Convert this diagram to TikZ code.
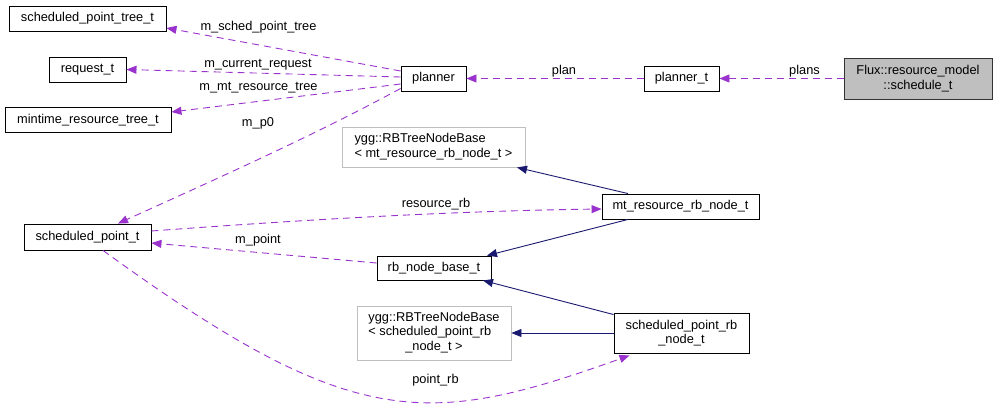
\documentclass[tikz,border=0pt]{standalone}
\usepackage{fontspec}
\setmainfont{Liberation Sans}
\usetikzlibrary{arrows.meta}
\definecolor{edgepurple}{RGB}{154,50,205}
\definecolor{edgenavy}{RGB}{25,25,112}
\definecolor{boxgray}{RGB}{191,191,191}
\definecolor{lightborder}{RGB}{191,191,191}
\begin{document}
\begin{tikzpicture}[x=1pt,y=-1pt,
  font=\fontsize{12.8}{14.6}\selectfont,
  cls/.style={draw=black, line width=0.9pt, fill=white, inner sep=0pt, minimum height=25pt, align=center},
  extcls/.style={draw=lightborder, line width=0.9pt, fill=white, inner sep=0pt, align=center},
  maincls/.style={draw=black!80, line width=0.9pt, fill=boxgray, inner sep=0pt, align=center},
  usesrel/.style={draw=edgepurple, line width=0.9pt, dash pattern=on 7pt off 5pt, -{Triangle[length=10pt,width=8pt]}},
  inherit/.style={draw=edgenavy, line width=0.9pt, -{Triangle[length=10pt,width=8pt]}},
  lbl/.style={inner sep=0pt}]
\useasboundingbox (0,0) rectangle (997,407);

% nodes
\node[cls, minimum width=157pt] (spt) at (87.5,18.5) {scheduled\_point\_tree\_t};
\node[cls, minimum width=77pt] (req) at (87.5,69.5) {request\_t};
\node[cls, minimum width=166pt] (mint) at (88,120) {mintime\_resource\_tree\_t};
\node[cls, minimum width=65pt] (planner) at (433.5,78.5) {planner};
\node[cls, minimum width=75pt] (plannert) at (681.5,78.5) {planner\_t};
\node[maincls, minimum width=148pt, minimum height=41pt] (sched) at (918,78.5) {Flux::resource\_model\\::schedule\_t};
\node[extcls, minimum width=183pt, minimum height=40pt] (yggmt) at (433.5,147)
  {\begin{tabular}{@{}l@{}}ygg::RBTreeNodeBase\\< mt\_resource\_rb\_node\_t >\end{tabular}};
\node[cls, minimum width=157pt] (mtrb) at (680.5,206.5) {mt\_resource\_rb\_node\_t};
\node[cls, minimum width=127pt, minimum height=26pt] (spt2) at (87.5,237) {scheduled\_point\_t};
\node[cls, minimum width=114pt, minimum height=24pt] (rbbase) at (434,268) {rb\_node\_base\_t};
\node[extcls, minimum width=154pt, minimum height=54pt] (yggsp) at (434,333)
  {\begin{tabular}{@{}l@{}}ygg::RBTreeNodeBase\\< scheduled\_point\_rb\\\multicolumn{1}{@{}c@{}}{\_node\_t >}\end{tabular}};
\node[cls, minimum width=135pt, minimum height=40pt] (sprb) at (681.5,333) {scheduled\_point\_rb\\\_node\_t};

% usage edges
\draw[usesrel] (sched.west) -- (plannert.east);
\draw[usesrel] (plannert.west) -- (planner.east);
\draw[usesrel] ([yshift=7.5pt]planner.west) -- ([yshift=-9.5pt]spt.east);
\draw[usesrel] ([yshift=1.5pt]planner.west) -- (req.east);
\draw[usesrel] ([yshift=-5.5pt]planner.west) -- ([yshift=8pt]mint.east);
\draw[usesrel] ([yshift=-10pt]planner.west) .. controls (311,137) and (208,182.6) .. ([xshift=30.5pt]spt2.north);
\draw[usesrel] ([yshift=6pt]spt2.east) .. controls (300,220) and (450,211) .. ([yshift=-2.5pt]mtrb.west);
\draw[usesrel] ([yshift=5pt]rbbase.west) -- ([yshift=-6pt]spt2.east);
\draw[usesrel] ([xshift=15.5pt]spt2.south) .. controls (353,432) and (427,428) .. ([xshift=-52pt,yshift=-2pt]sprb.south);

% inheritance edges
\draw[inherit] ([xshift=-52.5pt]mtrb.north) -- ([xshift=83.5pt]yggmt.south);
\draw[inherit] ([xshift=-52.5pt]mtrb.south) -- ([xshift=53pt]rbbase.north);
\draw[inherit] ([yshift=-2pt]sprb.north west) -- ([xshift=49pt]rbbase.south);
\draw[inherit] (sprb.west) -- (yggsp.east);

% labels
\node[lbl] (lplans) at (804.5,71) {plans};
\node[lbl] (lplan) at (564,71) {plan};
\node[lbl] (lsched) at (258.5,27) {m\_sched\_point\_tree};
\node[lbl] (lcur) at (258,65) {m\_current\_request};
\node[lbl] (lmt) at (258.5,88) {m\_mt\_resource\_tree};
\node[lbl] (lp0) at (258,123) {m\_p0};
\node[lbl] (lres) at (436,204) {resource\_rb};
\node[lbl] (lpoint) at (258,240) {m\_point};
\node[lbl] (lprb) at (435.5,380) {point\_rb};
\end{tikzpicture}
\end{document}
